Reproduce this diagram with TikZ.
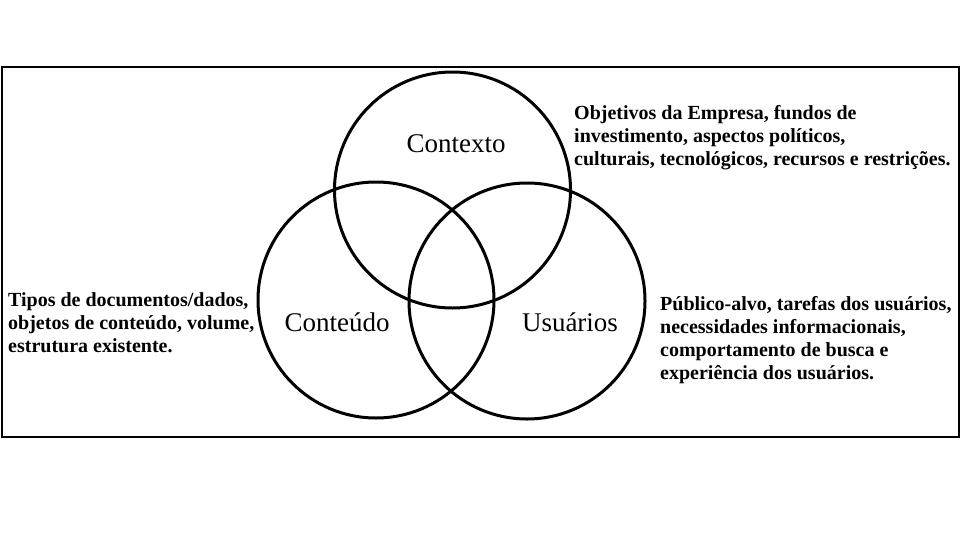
\documentclass[tikz,border=0pt]{standalone}
\usepackage{fontspec}
\setmainfont{Liberation Serif}
\begin{document}
\begin{tikzpicture}[x=1pt,y=-1pt,
  venn/.style={draw=black,line width=3pt,circle,minimum size=236pt,inner sep=0pt},
  lbl/.style={inner sep=0pt,anchor=base,font=\fontsize{27}{32}\selectfont},
  desc/.style={inner sep=0pt,anchor=west,align=left,font=\fontsize{20}{23}\selectfont\bfseries}]
\useasboundingbox[fill=white] (0,0) rectangle (961,541);
\node[draw=black,line width=2pt,minimum width=957pt,minimum height=370pt,inner sep=0pt,anchor=north west] (frame) at (1,66) {};
\node[venn] (ctx) at (452.5,190) {};
\node[venn] (cont) at (376,300) {};
\node[venn] (usr) at (527,301) {};
\node[lbl] (lctx) at (456,152) {Contexto};
\node[lbl] (lcont) at (337,331) {Conteúdo};
\node[lbl] (lusr) at (570,331) {Usuários};
\node[desc] (dctx) at (574,138) {Objetivos da Empresa, fundos de\\investimento, aspectos políticos,\\culturais, tecnológicos, recursos e restrições.};
\node[desc] (dcont) at (8,323) {Tipos de documentos/dados,\\objetos de conteúdo, volume,\\estrutura existente.};
\node[desc] (dusr) at (660,340) {Público-alvo, tarefas dos usuários,\\necessidades informacionais,\\comportamento de busca e\\experiência dos usuários.};
\end{tikzpicture}
\end{document}
